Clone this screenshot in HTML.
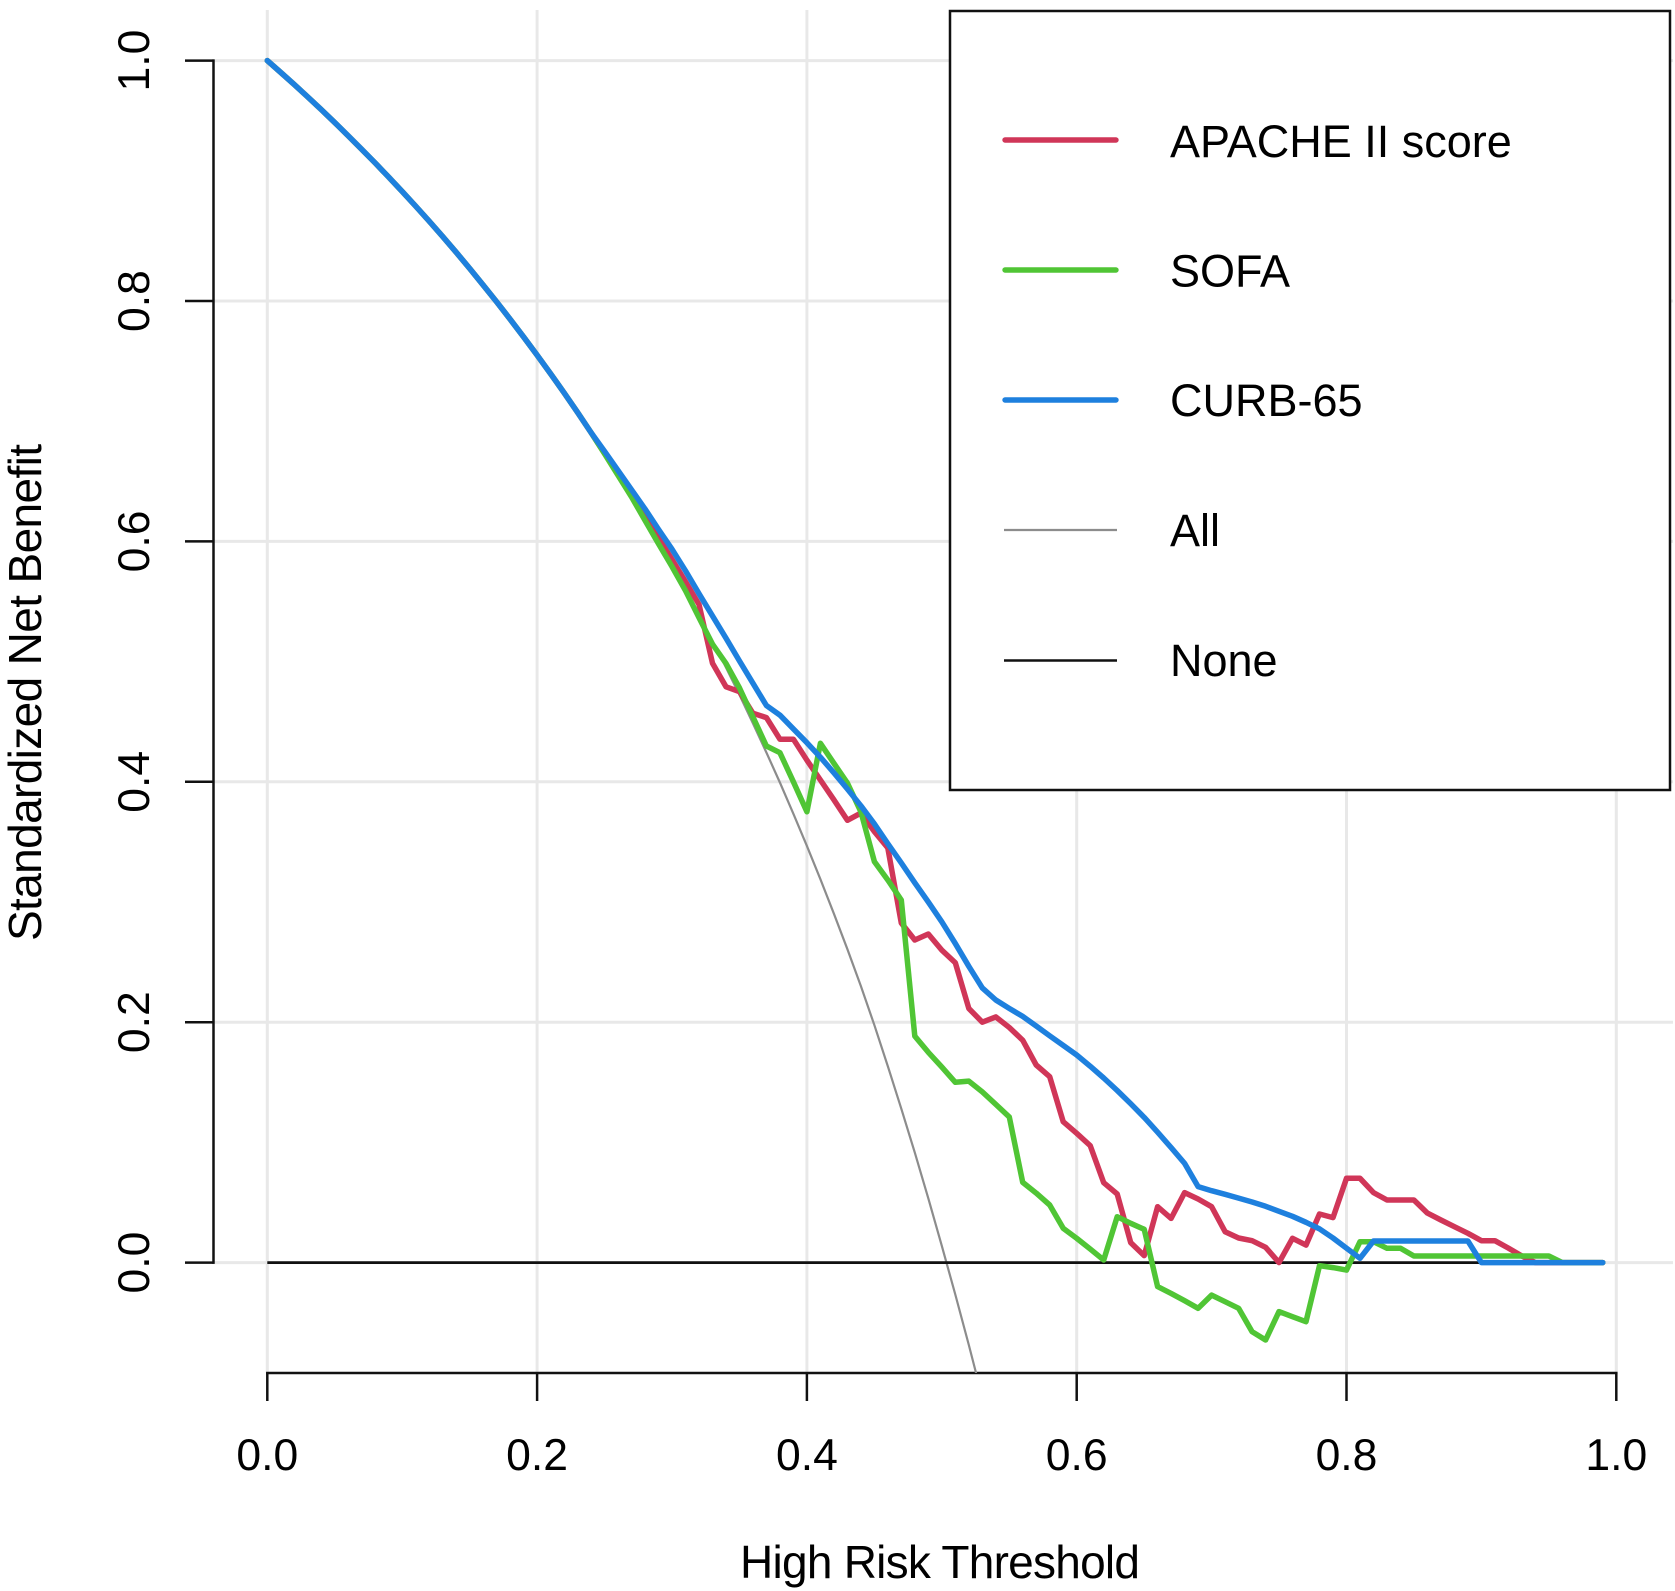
<!DOCTYPE html>
<html lang="en">
<head>
<meta charset="utf-8">
<title>Decision curve analysis</title>
<style>
html,body{margin:0;padding:0;background:#fff;}
#chart{display:block;width:1675px;height:1591px;font-family:"Liberation Sans",Arial,sans-serif;fill:#000;}
</style>
</head>
<body>
<svg id="chart" xmlns="http://www.w3.org/2000/svg" width="1675" height="1591" viewBox="0 0 1675 1591">
  <defs><clipPath id="plot-clip"><rect x="0" y="0" width="1675" height="1373"></rect></clipPath></defs>
  <g id="grid"></g>
  <g id="axes"></g>
  <g id="series" clip-path="url(#plot-clip)"></g>
  <text x="940" y="1578" font-size="46" text-anchor="middle" textLength="400" lengthAdjust="spacing">High Risk Threshold</text>
  <text transform="translate(41 692.5) rotate(-90)" font-size="46" text-anchor="middle" textLength="497" lengthAdjust="spacing">Standardized Net Benefit</text>
  <g>
    <rect x="950" y="11" width="720" height="779" fill="#fff" stroke="#111" stroke-width="2.5"></rect>
    <g>
      <line x1="1005" x2="1116" y1="140" y2="140" stroke="#d03658" stroke-width="5.4" stroke-linecap="round"></line>
      <text x="1170" y="157" font-size="45">APACHE II score</text>
    </g>
    <g>
      <line x1="1005" x2="1116" y1="270" y2="270" stroke="#50c535" stroke-width="5.4" stroke-linecap="round"></line>
      <text x="1170" y="286.5" font-size="45">SOFA</text>
    </g>
    <g>
      <line x1="1005" x2="1116" y1="400" y2="400" stroke="#1e80de" stroke-width="5.4" stroke-linecap="round"></line>
      <text x="1170" y="416" font-size="45">CURB-65</text>
    </g>
    <g>
      <line x1="1004" x2="1117" y1="530" y2="530" stroke="#8c8c8c" stroke-width="2.2"></line>
      <text x="1170" y="546" font-size="45">All</text>
    </g>
    <g>
      <line x1="1004" x2="1117" y1="660.5" y2="660.5" stroke="#111" stroke-width="2.6"></line>
      <text x="1170" y="676" font-size="45">None</text>
    </g>
  </g>
</svg>
<script>
const xTickValues = [0, 0.2, 0.4, 0.6, 0.8, 1];
const xTickLabels = ["0.0", "0.2", "0.4", "0.6", "0.8", "1.0"];
const yTickValues = [0, 0.2, 0.4, 0.6, 0.8, 1];
const yTickLabels = ["0.0", "0.2", "0.4", "0.6", "0.8", "1.0"];

const thresholds = [
  0,.01,.02,.03,.04,.05,.06,.07,.08,.09,
  .1,.11,.12,.13,.14,.15,.16,.17,.18,.19,
  .2,.21,.22,.23,.24,.25,.26,.27,.28,.29,
  .3,.31,.32,.33,.34,.35,.36,.37,.38,.39,
  .4,.41,.42,.43,.44,.45,.46,.47,.48,.49,
  .5,.51,.52,.53,.54,.55,.56,.57,.58,.59,
  .6,.61,.62,.63,.64,.65,.66,.67,.68,.69,
  .7,.71,.72,.73,.74,.75,.76,.77,.78,.79,
  .8,.81,.82,.83,.84,.85,.86,.87,.88,.89,
  .9,.91,.92,.93,.94,.95,.96,.97,.98,.99
];
const apacheValues = [
  1,.9901,.98,.9697,.9592,.9484,.9374,.9262,.9148,.9031,
  .8911,.8789,.8664,.8536,.8405,.8271,.8133,.7993,.7849,.7701,
  .755,.7395,.7236,.7073,.6905,.6733,.6565,.64,.622,.603,
  .585,.5665,.5475,.4986,.479,.475,.457,.4534,.4354,.4354,
  .418,.4015,.385,.368,.374,.3586,.345,.2825,.2684,.2734,
  .26,.2495,.2115,.2,.2044,.1956,.185,.1644,.1547,.1172,
  .1076,.0973,.0665,.0571,.0166,.0058,.0465,.0368,.0582,.0529,
  .0465,.0257,.0205,.0182,.0127,0,.0202,.0146,.0404,.0374,
  .0701,.0701,.0582,.0521,.0521,.0521,.0412,.0354,.0299,.0244,
  .0182,.0182,.0121,.0055,0,0,0,0,0,0
];
const sofaValues = [
  1,.9901,.98,.9697,.9592,.9484,.9374,.9262,.9148,.9031,
  .8911,.8789,.8664,.8536,.8405,.8271,.8133,.7993,.7849,.7701,
  .755,.7395,.7236,.7073,.6905,.673,.655,.637,.6175,.598,
  .579,.559,.5365,.5145,.4985,.478,.454,.4298,.4242,.4,
  .375,.432,.4154,.399,.375,.3336,.3183,.3017,.1884,.175,
  .1627,.15,.151,.142,.1316,.1211,.0668,.0578,.0479,.0285,
  .0202,.0113,.0022,.0382,.0327,.0277,-.02,-.0256,-.0317,-.038,
  -.027,-.0325,-.038,-.0575,-.0644,-.0408,-.045,-.0492,-.0026,-.0042,
  -.0062,.0174,.0174,.0119,.0119,.0055,.0055,.0055,.0055,.0055,
  .0055,.0055,.0055,.0055,.0055,.0055,0,0,0,0
];
const curbValues = [
  1,.9901,.98,.9697,.9592,.9484,.9374,.9262,.9148,.9031,
  .8911,.8789,.8664,.8536,.8405,.8271,.8133,.7993,.7849,.7701,
  .755,.7395,.7236,.7073,.6905,.675,.659,.643,.627,.61,
  .5935,.5755,.5565,.538,.5195,.5005,.482,.4635,.4555,.444,
  .4325,.4205,.4075,.394,.38,.365,.3485,.3325,.316,.3,
  .2835,.2655,.2465,.2285,.2185,.2115,.2048,.1968,.1887,.1807,
  .1727,.1634,.1536,.1432,.1322,.1208,.1085,.0957,.0825,.0632,
  .0598,.0568,.0537,.0504,.0468,.0427,.0385,.0335,.028,.0205,
  .012,.0036,.018,.018,.018,.018,.018,.018,.018,.018,
  0,0,0,0,0,0,0,0,0,0
];
const allValues = [
  1,.9901,.98,.9697,.9592,.9484,.9374,.9262,.9148,.9031,
  .8911,.8789,.8664,.8536,.8405,.8271,.8133,.7993,.7849,.7701,
  .755,.7395,.7236,.7073,.6905,.6733,.6557,.6375,.6189,.5997,
  .58,.5597,.5388,.5173,.4951,.4723,.4487,.4244,.3994,.3734,
  .3467,.319,.2903,.2607,.23,.1975,.1635,.128,.0915,.0535,
  .014,-.0265,-.0685,-.112
];
const noneValues = [0, 0];
const noneThresholds = [0, 0.99];

const SVG_NS = "http://www.w3.org/2000/svg";
const xScale = v => 267.3 + v * 1349;
const yScale = v => 1262.6 - v * 1202;
const gridGroup = document.getElementById("grid");
const axesGroup = document.getElementById("axes");
const seriesGroup = document.getElementById("series");

function makeLine(parent, x1, y1, x2, y2, color, width) {
  const l = document.createElementNS(SVG_NS, "line");
  l.setAttribute("x1", x1);
  l.setAttribute("y1", y1);
  l.setAttribute("x2", x2);
  l.setAttribute("y2", y2);
  l.setAttribute("stroke", color);
  l.setAttribute("stroke-width", width);
  parent.appendChild(l);
  return l;
}
function makeText(parent, str, transform) {
  const t = document.createElementNS(SVG_NS, "text");
  t.setAttribute("transform", transform);
  t.setAttribute("font-size", "44.5");
  t.setAttribute("text-anchor", "middle");
  t.textContent = str;
  parent.appendChild(t);
  return t;
}

xTickValues.forEach((v, i) => {
  const g = makeLine(gridGroup, xScale(v), 10, xScale(v), 1373, "#e8e8e8", 3);
  
  
  const tick = makeLine(axesGroup, xScale(v), 1373, xScale(v), 1401, "#111", 2.5);
  
  
  const label = makeText(axesGroup, xTickLabels[i], "translate(" + xScale(v) + " 1470)");
  
  
});
yTickValues.forEach((v, i) => {
  const g = makeLine(gridGroup, 213, yScale(v), 1673, yScale(v), "#e8e8e8", 3);
  
  
  const tick = makeLine(axesGroup, 185, yScale(v), 213.5, yScale(v), "#111", 2.5);
  
  
  const label = makeText(axesGroup, yTickLabels[i], "translate(149 " + yScale(v) + ") rotate(-90)");
  
  
});
const xAxisLine = makeLine(axesGroup, xScale(xTickValues[0]) - 1.25, 1373, xScale(xTickValues[5]) + 1.25, 1373, "#111", 2.5);


const yAxisLine = makeLine(axesGroup, 213.5, yScale(yTickValues[0]) + 1.25, 213.5, yScale(yTickValues[5]) - 1.25, "#111", 2.5);



function drawSeries(xs, ys, color, width, cap) {
  const p = document.createElementNS(SVG_NS, "polyline");
  p.setAttribute("points", ys.map((v, i) => xScale(xs[i]).toFixed(1) + "," + yScale(v).toFixed(1)).join(" "));
  p.setAttribute("fill", "none");
  p.setAttribute("stroke", color);
  p.setAttribute("stroke-width", width);
  p.setAttribute("stroke-linejoin", "round");
  p.setAttribute("stroke-linecap", cap);
  seriesGroup.appendChild(p);
  return p;
}
const allLine = drawSeries(thresholds, allValues, "#8c8c8c", 2.2, "butt");


const noneLine = drawSeries(noneThresholds, noneValues, "#111", 2.8, "butt");


const apacheLine = drawSeries(thresholds, apacheValues, "#d03658", 5.5, "round");


const sofaLine = drawSeries(thresholds, sofaValues, "#50c535", 5.5, "round");


const curbLine = drawSeries(thresholds, curbValues, "#1e80de", 5.5, "round");


</script>
</body>
</html>
